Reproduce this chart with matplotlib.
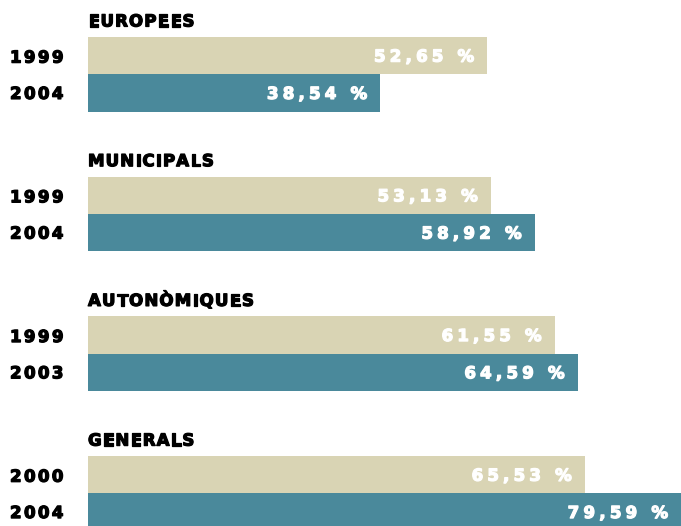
import matplotlib.pyplot as plt
import matplotlib.patheffects as pe
from matplotlib.font_manager import FontProperties, findfont, get_font
from matplotlib.transforms import offset_copy

# dades
categories = ["EUROPEES", "MUNICIPALS", "AUTONÒMIQUES", "GENERALS"]
years_old = ["1999", "1999", "1999", "2000"]
years_new = ["2004", "2004", "2003", "2004"]
values_old = [52.65, 53.13, 61.55, 65.53]
values_new = [38.54, 58.92, 64.59, 79.59]

BEIGE = "#d9d4b4"
TEAL = "#4a899b"

# layout (y in pixels, x in percent units; 7.58 px per unit, bars start at px 88)
PX_PER_UNIT = 7.58
X0_PX = 88
W, H = 681, 526
GROUP_STEP = 139.7
FIRST_TOP = 37
BAR_H = 37.3

fig = plt.figure(figsize=(W / 100, H / 100), dpi=100)
ax = fig.add_axes([0, 0, 1, 1])
ax.set_xlim(-X0_PX / PX_PER_UNIT, (W - X0_PX) / PX_PER_UNIT)
ax.set_ylim(H, 0)
ax.axis("off")

fp = FontProperties(family="DejaVu Sans", weight="bold", size=12)
ft = get_font(findfont(fp))
ft.set_size(fp.get_size_in_points(), fig.dpi)
HINT = plt.rcParams["text.hinting_factor"]


def advances(s):
    out = []
    for c in s:
        g = ft.load_char(ord(c))
        out.append(g.horiAdvance / 64 / HINT)
    return out


def tracked(x, y, s, track, ha="left", color="black"):
    # draws text char by char to get the wide letter spacing
    adv = advances(s)
    total = sum(adv) + track * (len(s) - 1)
    off = -total if ha == "right" else 0
    for c, a in zip(s, adv):
        tr = offset_copy(ax.transData, fig=fig, x=off, y=0, units="dots")
        ax.text(x, y, c, transform=tr, fontproperties=fp, color=color,
                ha="left", va="baseline",
                path_effects=[pe.withStroke(linewidth=0.9, foreground=color)])
        off += a + track


x_right = (W - X0_PX) / PX_PER_UNIT
for g, cat in enumerate(categories):
    top = FIRST_TOP + g * GROUP_STEP
    y1 = top
    y2 = top + BAR_H
    ax.barh(y1, values_old[g], height=BAR_H, align="edge", color=BEIGE, lw=0)
    ax.barh(y2, values_new[g], height=BAR_H, align="edge", color=TEAL, lw=0)

    tracked(0, top - 10.5, cat, 1.1)
    tracked(-78 / PX_PER_UNIT, y1 + BAR_H / 2 + 7, years_old[g], 2.4)
    tracked(-78 / PX_PER_UNIT, y2 + BAR_H / 2 + 6, years_new[g], 2.4)

    for v, yy in [(values_old[g], y1), (values_new[g], y2)]:
        lab = f"{v:.2f}".replace(".", ",") + " %"
        end = min(v, x_right) - 13 / PX_PER_UNIT
        tracked(end, yy + BAR_H / 2 + 6, lab, 4.2, ha="right", color="white")

fig.savefig("out.png", dpi=100)
